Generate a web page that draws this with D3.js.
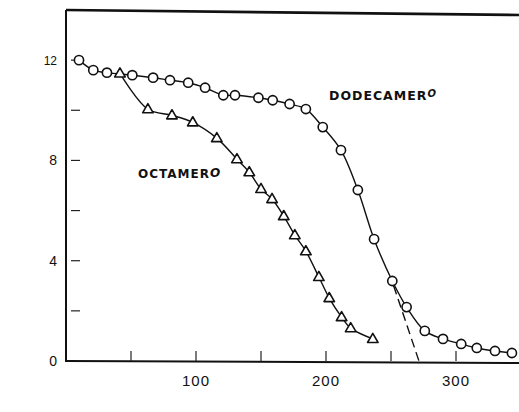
<!DOCTYPE html>
<html>
<head>
<meta charset="utf-8">
<title>Dodecamero / Octamero</title>
<script src="https://d3js.org/d3.v7.min.js"></script>
<style>
body {
	margin: 0;
	background-color: white;
}
svg {
	display: block;
}
.tick-label {
	font-family: "Liberation Sans", Arial, sans-serif;
	font-size: 15px;
	fill: #111;
}
.curve-label {
	font-family: "DejaVu Sans", sans-serif;
	font-size: 12.5px;
	font-weight: bold;
	letter-spacing: 1px;
	fill: #111;
}
</style>
</head>
<body>
<div id="graph"></div>
<script>
/* globals d3 */
// values
const dodecaX = [10, 21, 31.5, 51, 67, 80, 94, 107, 121, 130, 148, 159, 172, 184.5, 197.5, 211.5, 224.5, 237, 251, 262, 276, 290, 304, 316, 330, 343];
const dodecaY = [12.0, 11.6, 11.5, 11.4, 11.3, 11.2, 11.1, 10.9, 10.6, 10.6, 10.5, 10.4, 10.25, 10.05, 9.33, 8.41, 6.82, 4.86, 3.19, 2.15, 1.2, 0.88, 0.68, 0.52, 0.40, 0.32];
const octaX = [41.5, 63, 81.5, 97.5, 116, 131.5, 141, 150, 158.5, 167.5, 176, 184.5, 194.5, 202.5, 212, 219, 236];
const octaY = [11.47, 10.04, 9.8, 9.52, 8.89, 8.05, 7.53, 6.86, 6.46, 5.78, 5.02, 4.38, 3.35, 2.51, 1.75, 1.31, 0.88];
const extrapX = [252, 271.5];
const extrapY = [3.0, 0];
const xTicks = [50, 100, 150, 200, 250, 300];
const xLabels = [100, 200, 300];
const yTicks = [2, 4, 6, 8, 10, 12];
const yLabels = [0, 4, 8, 12];

(function() {
"use strict";
function main()
{
	const width = 519, height = 412;
	const x0 = 66, yBase = 361;

	const xScale = d3.scaleLinear([0, 350], [x0, x0 + 455]);
	const yScale = d3.scaleLinear([0, 14], [yBase, yBase - 351]);

	const svg = d3.select("#graph")
		.append("svg")
			.attr("width", width)
			.attr("height", height);

	// frame: left axis, bottom axis, top border
	const frame = svg.append("g")
		.attr("stroke", "#111")
		.attr("stroke-width", 2)
		.attr("fill", "none");
	frame.append("line")
		.attr("x1", xScale(0)).attr("y1", yScale(0) + 1)
		.attr("x2", xScale(0)).attr("y2", yScale(14));
	frame.append("line")
		.attr("x1", xScale(0)).attr("y1", yScale(0))
		.attr("x2", width).attr("y2", yScale(0) + 2);
	frame.append("line")
		.attr("stroke-width", 2.6)
		.attr("x1", xScale(0)).attr("y1", yScale(14))
		.attr("x2", width).attr("y2", yScale(14) + 5);

	// inward ticks
	const ticks = svg.append("g")
		.attr("stroke", "#222")
		.attr("stroke-width", 1.2);
	ticks.selectAll(".xt")
		.data(xTicks)
		.join("line")
		.attr("x1", d => xScale(d)).attr("x2", d => xScale(d))
		.attr("y1", yScale(0)).attr("y2", yScale(0) - 10);
	ticks.selectAll(".yt")
		.data(yTicks)
		.join("line")
		.attr("x1", xScale(0) + 5).attr("x2", xScale(0) + 14)
		.attr("y1", d => yScale(d)).attr("y2", d => yScale(d));

	svg.append("g").selectAll("text")
		.data(xLabels)
		.join("text")
		.attr("class", "tick-label")
		.attr("x", d => xScale(d))
		.attr("y", yScale(0) + 25)
		.attr("text-anchor", "middle")
		.style("letter-spacing", "1px")
		.text(d => d);
	svg.append("g").selectAll("text")
		.data(yLabels)
		.join("text")
		.attr("class", "tick-label")
		.attr("x", xScale(0) - 9)
		.attr("y", d => yScale(d) + 5)
		.attr("text-anchor", "end")
		.style("font-size", d => d === 12 ? "12px" : "14px")
		.text(d => d);

	const line = d3.line()
		.x(d => xScale(d[0]))
		.y(d => yScale(d[1]))
		.curve(d3.curveCatmullRom.alpha(0.5));

	const dodeca = d3.zip(dodecaX, dodecaY);
	const octa = d3.zip(octaX, octaY);

	svg.append("path")
		.datum(d3.zip(extrapX, extrapY))
		.attr("d", d3.line().x(d => xScale(d[0])).y(d => yScale(d[1])))
		.attr("fill", "none")
		.attr("stroke", "#111")
		.attr("stroke-width", 1.4)
		.attr("stroke-dasharray", "9,5");

	for (const data of [dodeca, octa]) {
		svg.append("path")
			.datum(data)
			.attr("d", line)
			.attr("fill", "none")
			.attr("stroke", "#111")
			.attr("stroke-width", 1.4);
	}

	svg.append("g").selectAll("circle")
		.data(dodeca)
		.join("circle")
		.attr("cx", d => xScale(d[0]))
		.attr("cy", d => yScale(d[1]))
		.attr("r", 4.6)
		.attr("fill", "white")
		.attr("stroke", "#111")
		.attr("stroke-width", 1.6);

	const tri = d3.symbol().type(d3.symbolTriangle).size(48);
	svg.append("g").selectAll("path")
		.data(octa)
		.join("path")
		.attr("d", tri)
		.attr("transform", d => "translate(" + xScale(d[0]) + "," + (yScale(d[1]) + 0.5) + ")")
		.attr("fill", "white")
		.attr("stroke", "#111")
		.attr("stroke-width", 1.6)
		.attr("stroke-linejoin", "round");

	// curve names
	const lab1 = svg.append("text")
		.attr("class", "curve-label")
		.attr("x", 329).attr("y", 100);
	lab1.append("tspan").text("DODECAMER");
	lab1.append("tspan").attr("dy", -3).style("font-size", "10px")
		.style("font-style", "italic").text("O");

	const lab2 = svg.append("text")
		.attr("class", "curve-label")
		.attr("x", 138).attr("y", 178)
		.style("font-size", "12px");
	lab2.append("tspan").text("OCTAMER");
	lab2.append("tspan").attr("dy", -1).style("font-style", "italic").text("O");
}
window.addEventListener("DOMContentLoaded", main);
})();
</script>
</body>
</html>
